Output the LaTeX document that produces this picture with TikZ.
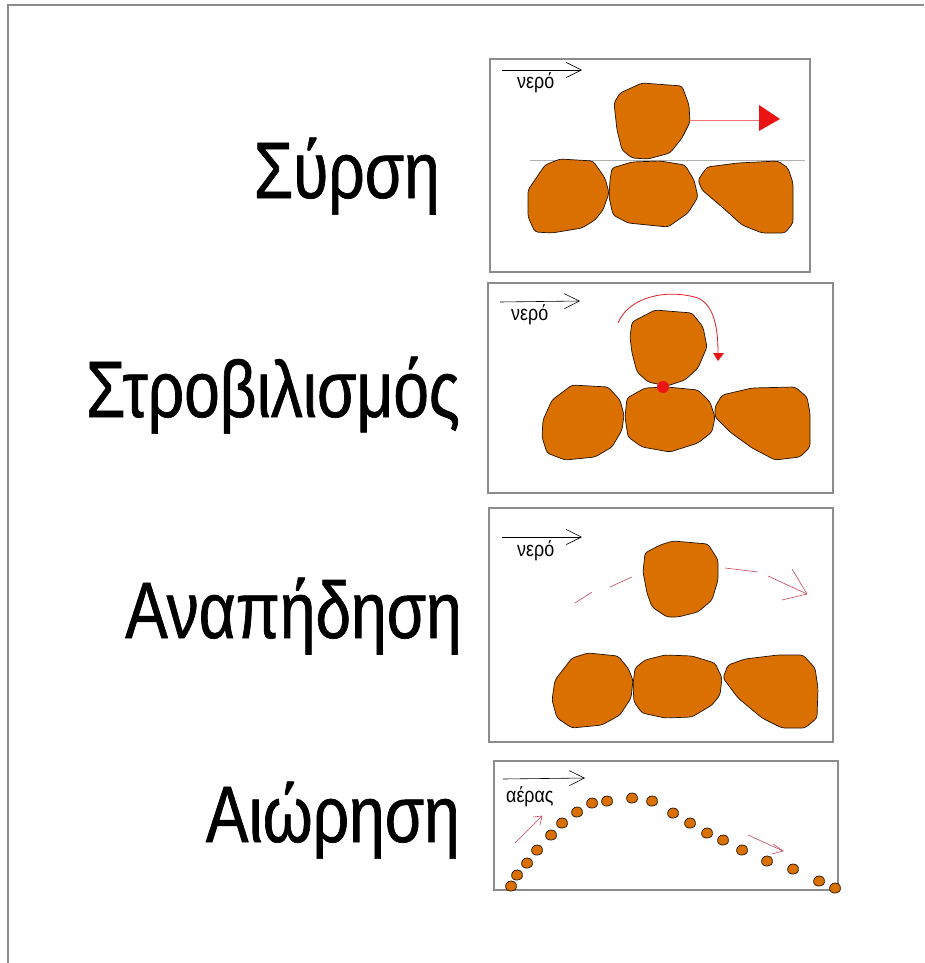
\documentclass[tikz,border=0pt]{standalone}
\usepackage{fontspec}
\setmainfont{Liberation Sans}
\newfontfamily\labelfont[FakeStretch=0.8,FakeBold=0.8]{Liberation Sans}
\newfontfamily\smallfont[FakeStretch=0.85]{Liberation Sans}
\usetikzlibrary{arrows.meta}

\definecolor{pebblefill}{RGB}{218,112,0}
\definecolor{framegray}{RGB}{140,140,140}
\definecolor{flowred}{RGB}{200,70,90}
\definecolor{pushred}{RGB}{235,20,20}

\begin{document}
\begin{tikzpicture}[x=1pt,y=-1pt,
  pebble/.style={fill=pebblefill, draw=black!85!pebblefill, line width=0.7pt, rounded corners=3pt},
  panel/.style={draw=framegray, line width=1.2pt},
  title/.style={font=\labelfont\fontsize{80}{84}\selectfont, anchor=base east, inner sep=0pt},
  medium/.style={font=\smallfont\fontsize{21}{24}\selectfont, anchor=base west, inner sep=0pt},
  current/.style={line width=0.6pt, -{Straight Barb[length=15pt,width=15pt,line width=0.6pt]}},
  motion/.style={draw=flowred, line width=0.6pt}]

\useasboundingbox (0,0) rectangle (924,963);
\fill[white] (0,0) rectangle (924,963);

% outer frame (top and left edges)
\draw[framegray, line width=2pt] (8,963) -- (8,5) -- (924,5);

% ---------- titles ----------
\node[title] (t1) at (440,198) {Σύρση};
\node[title] (t2) at (460,417) {Στροβιλισμός};
\node[title] (t3) at (462,638) {Αναπήδηση};
\node[title] (t4) at (460,842) {Αιώρηση};

% ---------- panel 1: sliding ----------
\draw[panel] (490,59) rectangle (810,272);
\draw[current] (502,70) -- (582,70);
\node[medium] (w1) at (517,89) {νερό};
\draw[black!30, line width=0.6pt] (530,160) -- (805,160);
\draw[pebble] (620,93) -- (642,83) -- (682,86) -- (689,105) -- (690,122) -- (682,138)
  -- (670,153) -- (648,159) -- (632,158) -- (622,150) -- (617,130) -- (614,103) -- cycle;
\draw[pebble] (528,190) -- (545,165) -- (560,159) -- (593,161) -- (605,178) -- (609,193)
  -- (603,210) -- (595,220) -- (582,228) -- (552,233) -- (535,232) -- (528,217) -- cycle;
\draw[pebble] (612,168) -- (632,162) -- (660,161) -- (685,165) -- (694,180) -- (698,197)
  -- (688,213) -- (668,227) -- (628,223) -- (613,215) -- (609,197) -- (610,180) -- cycle;
\draw[pebble] (698,180) -- (707,167) -- (738,163) -- (778,161) -- (788,168) -- (793,183)
  -- (793,223) -- (785,233) -- (762,233) -- (742,225) -- (722,207) -- (702,190) -- cycle;
\draw[pushred!60, line width=0.8pt] (690,120) -- (760,120);
\fill[pushred] (759,105) -- (780,119) -- (759,131) -- cycle;

% ---------- panel 2: rolling ----------
\draw[panel] (488,283) rectangle (833,493);
\draw[current] (500,302) -- (580,301);
\node[medium] (w2) at (511,320) {νερό};
\draw[pebble] (632,322) -- (655,310) -- (692,313) -- (703,327) -- (707,347) -- (698,368)
  -- (685,380) -- (667,386) -- (648,382) -- (637,372) -- (632,353) -- (630,337) -- cycle;
\draw[pebble] (543,420) -- (552,400) -- (572,385) -- (608,387) -- (620,400) -- (624,415)
  -- (622,430) -- (612,447) -- (595,457) -- (565,460) -- (547,453) -- (542,437) -- cycle;
\draw[pebble] (627,398) -- (645,388) -- (667,387) -- (698,390) -- (710,402) -- (715,417)
  -- (712,432) -- (698,443) -- (670,452) -- (642,447) -- (628,437) -- (625,417) -- cycle;
\draw[pebble] (715,407) -- (722,395) -- (752,388) -- (795,387) -- (807,397) -- (810,413)
  -- (810,447) -- (800,457) -- (775,460) -- (752,448) -- (730,432) -- (715,417) -- cycle;
\draw[pushred!75!flowred, line width=0.8pt] (618,323) .. controls (628,298) and (665,288) .. (698,298)
  .. controls (715,306) and (718,330) .. (718,354);
\fill[pushred] (713,353) -- (724,353) -- (718,361) -- cycle;
\fill[pushred] (663,387) circle (6);

% ---------- panel 3: saltation ----------
\draw[panel] (489,508) rectangle (833,742);
\draw[current] (502,537) -- (582,537);
\node[medium] (w3) at (517,556) {νερό};
\draw[pebble] (645,553) -- (660,545) -- (673,541) -- (708,544) -- (718,560) -- (718,580)
  -- (712,600) -- (698,612) -- (678,617) -- (667,617) -- (652,607) -- (647,593) -- (643,572) -- cycle;
\draw[motion] (575,603) -- (592,592);
\draw[motion] (610,587) -- (632,577);
\draw[motion] (725,568) -- (758,572);
\draw[motion] (768,576) -- (807,594);
\draw[motion] (792,569) -- (807,594) -- (782,600);
\draw[pebble] (555,680) -- (572,658) -- (588,653) -- (618,656) -- (628,668) -- (633,680)
  -- (631,698) -- (620,715) -- (602,725) -- (572,728) -- (557,718) -- (552,700) -- cycle;
\draw[pebble] (635,668) -- (645,660) -- (665,655) -- (692,656) -- (715,663) -- (722,678)
  -- (720,695) -- (712,705) -- (692,717) -- (665,718) -- (642,713) -- (634,702) -- (633,685) -- cycle;
\draw[pebble] (723,678) -- (728,665) -- (745,659) -- (778,655) -- (803,655) -- (815,668)
  -- (818,688) -- (817,718) -- (805,728) -- (782,728) -- (762,718) -- (738,698) -- cycle;

% ---------- panel 4: suspension ----------
\draw[panel] (494,761) rectangle (838,890);
\draw[current] (503,779) -- (585,778);
\node[medium] (w4) at (506,802) {αέρας};
\draw[motion] (515,843) -- (542,816);
\draw[motion] (533,817) -- (542,816) -- (540,825);
\draw[motion] (748,835) -- (783,851);
\draw[motion] (773,844) -- (783,851) -- (772,854);
\foreach \gx/\gy in {511/886, 517/875, 527/863, 537/850, 551/835, 562/823, 577/812,
  592/803, 607/801, 632/798, 652/801, 673/813, 690/823, 707/833, 723/840, 742/850,
  767/861, 793/869, 819/881, 835/888}
  \draw[pebble, rounded corners=1.5pt] (\gx-5.5,\gy-2) -- (\gx-1,\gy-5.5) -- (\gx+5,\gy-3.5)
    -- (\gx+5.5,\gy+3) -- (\gx,\gy+5.5) -- (\gx-5,\gy+3.5) -- cycle;

\end{tikzpicture}
\end{document}
